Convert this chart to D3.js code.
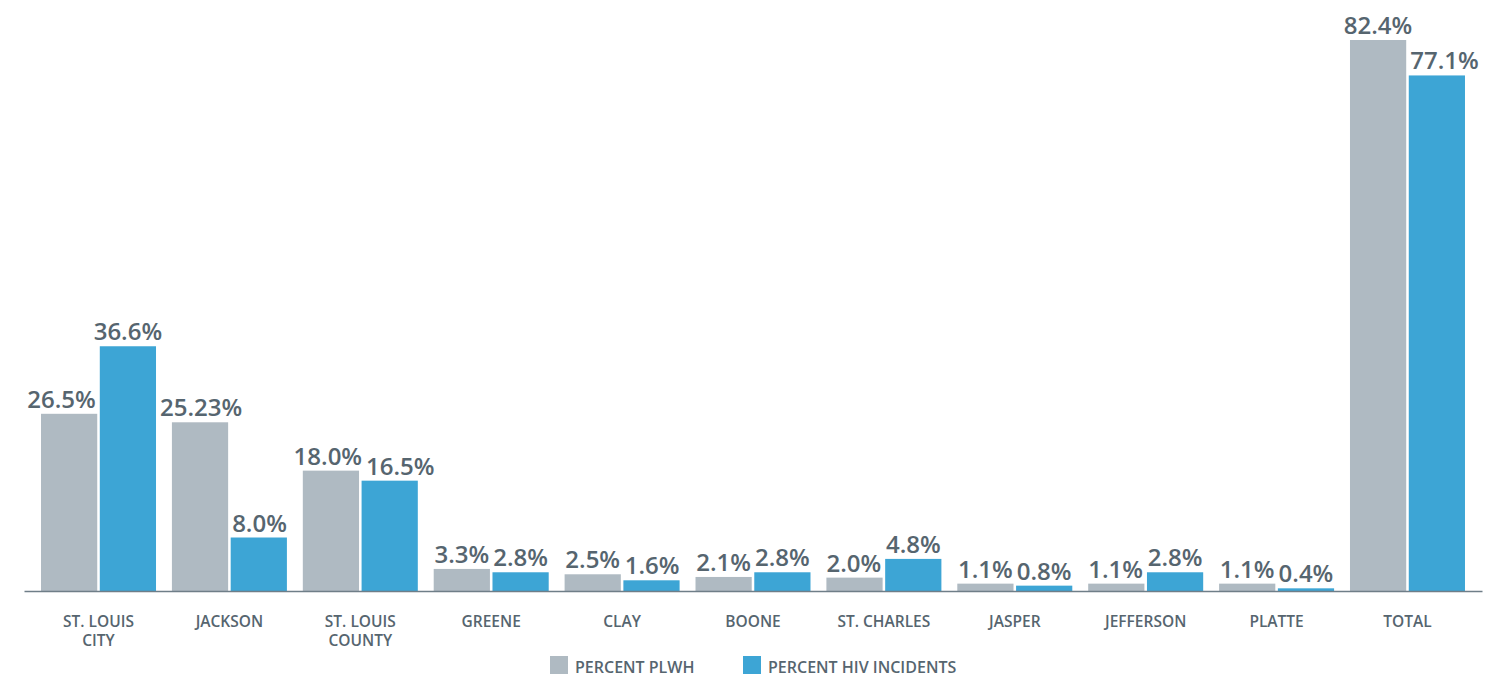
<!DOCTYPE html>
<html>
<head>
<meta charset="utf-8">
<script src="https://cdn.jsdelivr.net/npm/d3@7"></script>
<style>
  html, body { margin: 0; padding: 0; background: #fff; }
  svg { display: block; font-family: "Open Sans", sans-serif; }
</style>
</head>
<body>
<svg id="chart" width="1498" height="677"></svg>
<script>
const categories = [["ST. LOUIS", "CITY"], ["JACKSON"], ["ST. LOUIS", "COUNTY"], ["GREENE"], ["CLAY"], ["BOONE"], ["ST. CHARLES"], ["JASPER"], ["JEFFERSON"], ["PLATTE"], ["TOTAL"]];
const plwh = [26.5, 25.23, 18.0, 3.3, 2.5, 2.1, 2.0, 1.1, 1.1, 1.1, 82.4];
const incidents = [36.6, 8.0, 16.5, 2.8, 1.6, 2.8, 4.8, 0.8, 2.8, 0.4, 77.1];
const plwhLabels = ["26.5%", "25.23%", "18.0%", "3.3%", "2.5%", "2.1%", "2.0%", "1.1%", "1.1%", "1.1%", "82.4%"];
const incidentLabels = ["36.6%", "8.0%", "16.5%", "2.8%", "1.6%", "2.8%", "4.8%", "0.8%", "2.8%", "0.4%", "77.1%"];
const seriesNames = ["PERCENT PLWH", "PERCENT HIV INCIDENTS"];
const colors = ["#AFBAC2", "#3DA5D5"];
const textColor = "#56656F";

const svg = d3.select("#chart");
const baseY = 591, topY = 40;
const keys = categories.map((c, i) => i);

const x0 = d3.scaleBand().domain(keys).range([24, 1482]).paddingInner(0.1215).paddingOuter(0.13);
const x1 = d3.scaleBand().domain([0, 1]).range([0, x0.bandwidth()]).paddingInner(0.0435);
const y = d3.scaleLinear().domain([0, d3.max(plwh.concat(incidents))]).range([baseY, topY]);

const series = [plwh, incidents];
const labelsTxt = [plwhLabels, incidentLabels];

// bars
const bars = [];
series.forEach((vals, s) => {
  vals.forEach((v, i) => {
    bars.push({ s, i, v, x: x0(i) + x1(s), w: x1.bandwidth(), y: y(v) });
  });
});
svg.append("g").selectAll("rect").data(bars).join("rect")
  .attr("x", d => d.x).attr("y", d => d.y)
  .attr("width", d => d.w).attr("height", d => baseY - d.y)
  .attr("fill", d => colors[d.s]);

// axis line
const xAxis = d3.axisBottom(x0).tickSize(0).tickFormat("");
const axG = svg.append("g").attr("transform", `translate(0,${baseY})`).call(xAxis);
axG.select(".domain").attr("stroke", "#6F7E88").attr("stroke-width", 1.6);

// category labels (one text per line)
const catG = svg.append("g");
categories.forEach((lines, i) => {
  lines.forEach((ln, k) => {
    catG.append("text")
      .attr("x", x0(i) + x0.bandwidth() / 2)
      .attr("y", baseY + 36 + k * 19)
      .attr("text-anchor", "middle")
      .attr("fill", textColor)
      .attr("font-size", 15.5)
      .attr("font-weight", 600)
      .text(ln);
  });
});

// value labels with simple collision avoidance
const labG = svg.append("g");
const fs = 24;
const labs = bars.map(b => {
  const t = labG.append("text")
    .attr("text-anchor", "middle")
    .attr("fill", textColor)
    .attr("font-size", fs)
    .attr("font-weight", 600)
    .attr("x", b.x + b.w / 2)
    .attr("y", b.y - 6)
    .text(labelsTxt[b.s][b.i]);
  const w = t.node().getComputedTextLength();
  return { t, bar: b, cx: b.x + b.w / 2, w, top: b.y - 6 - 18, bottom: b.y - 6 };
});
const gap = 4;
for (let iter = 0; iter < 6; iter++) {
  labs.forEach(L => {
    bars.forEach(B => {
      if (B === L.bar) return;
      if (L.bottom <= B.y) return;
      const l = L.cx - L.w / 2, r = L.cx + L.w / 2;
      if (r + gap > B.x && l - gap < B.x + B.w) {
        if (L.cx < B.x + B.w / 2) L.cx = B.x - gap - L.w / 2;
        else L.cx = B.x + B.w + gap + L.w / 2;
      }
    });
  });
  for (let a = 0; a < labs.length; a++) {
    for (let b = 0; b < labs.length; b++) {
      if (a === b) continue;
      const A = labs[a], B = labs[b];
      if (A.cx > B.cx) continue;
      if (A.bottom <= B.top || B.bottom <= A.top) continue;
      const overlap = (A.cx + A.w / 2 + gap) - (B.cx - B.w / 2);
      if (overlap > 0) { A.cx -= overlap / 2; B.cx += overlap / 2; }
    }
  }
}
labs.forEach(L => L.t.attr("x", L.cx));

// legend
const legend = svg.append("g");
const legX = [550, 743];
seriesNames.forEach((name, s) => {
  legend.append("rect").attr("x", legX[s]).attr("y", 656).attr("width", 18).attr("height", 18).attr("fill", colors[s]);
  legend.append("text").attr("x", legX[s] + 25).attr("y", 673)
    .attr("fill", textColor).attr("font-size", 16).attr("font-weight", 600).text(name);
});
</script>
</body>
</html>
